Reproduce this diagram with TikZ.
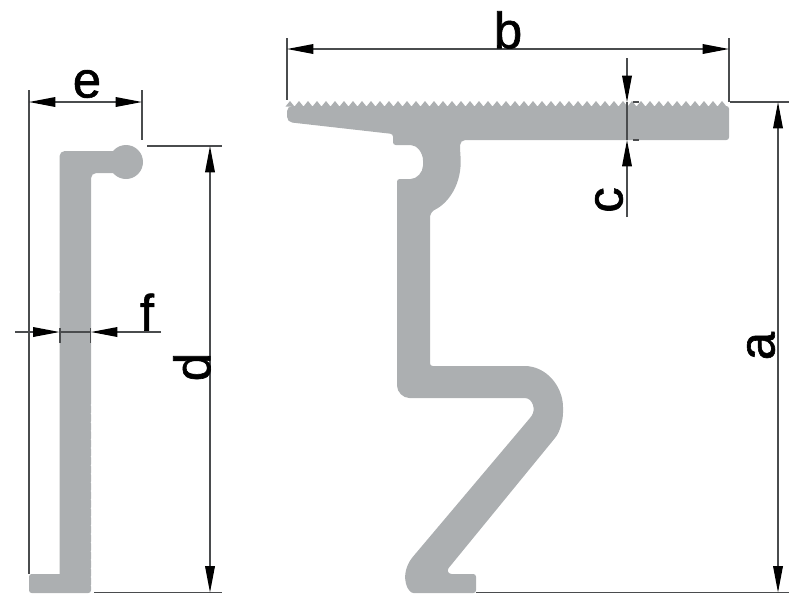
\documentclass[tikz,border=0pt]{standalone}
\usepackage{fontspec}
\setmainfont{Liberation Sans}
\newfontfamily\dimfont{Liberation Sans}[FakeBold=1.2]
\usetikzlibrary{arrows.meta}
\definecolor{alu}{HTML}{ACAFB1}
\definecolor{dimgrey}{HTML}{4A4C4E}
\tikzset{
	profile/.style={fill=alu, draw=none},
	dimline/.style={draw=dimgrey, line width=0.7pt},
	dimarrow/.style={dimline, -{Triangle[length=15pt,width=5.5pt,color=black]}},
	dimboth/.style={dimline, {Triangle[length=15pt,width=5.5pt,color=black]}-{Triangle[length=15pt,width=5.5pt,color=black]}},
	dimtext/.style={inner sep=0pt, font=\dimfont\fontsize{29}{29}\selectfont, text=black},
}

\begin{document}
\begin{tikzpicture}[x=0.02cm, y=-0.02cm]
			\useasboundingbox (0, 0) rectangle (800, 603);
			
			%%%%% LEFT PROFILE %%%%%
			\fill[profile, rounded corners=3pt] (59.5, 151) -- (126, 151) -- (126, 173) -- (91, 173) [rounded corners=1.5pt] -- (91, 593) -- (29, 593) -- (29, 574) [sharp corners] -- (59.5, 574) [rounded corners=3pt] -- cycle;
			\fill[profile] (126, 162) circle (17);
			\foreach \ny in {405, 413.6, ..., 590}
				\fill[white] (92, \ny) circle (1.3);
			\fill[white] (59, 292) circle (0.8);
			
			%%%%% RIGHT PROFILE %%%%%
			\fill[profile, rounded corners=3pt] (287, 106) [rounded corners=1.5pt] -- (729, 106) -- (729, 140) [rounded corners=3pt] -- (460, 140)
				-- (460, 150) .. controls (463, 185) and (447, 204) .. (430, 212)
				[rounded corners=1.5pt] -- (430, 366) -- (522, 366) .. controls (546, 366) and (563, 386) .. (563, 410)
				.. controls (563, 420) and (560, 431) .. (555, 438)
				-- (447, 570) -- (449, 574) -- (476, 574) -- (476, 593) -- (416, 593)
				.. controls (408, 593) and (400, 578) .. (411, 559)
				-- (530, 418) .. controls (536, 410) and (533, 398) .. (522, 398)
				-- (412, 398) .. controls (403, 398) and (397, 392) .. (397, 383)
				-- (397, 179) -- (408, 179) .. controls (417, 179) and (423, 172) .. (423, 163)
				.. controls (423, 153) and (417, 145) .. (408, 145)
				-- (393, 145) -- (393, 134) [rounded corners=3pt] -- (287, 122) -- cycle;
			\foreach \nx in {290, 299, ..., 726}
				\fill[profile] (\nx-4.5, 106.5) -- (\nx, 101) -- (\nx+4.5, 106.5) -- cycle;
			
			%%%%% DIMENSION a %%%%%
			\draw[dimline] (730, 102) -- (789, 102);
			\draw[dimline] (476, 592.5) -- (789, 592.5);
			\draw[dimboth] (778, 102) -- (778, 592.5);
			\node[dimtext, rotate=90] (la) at (761, 346) {a};
			
			%%%%% DIMENSION b %%%%%
			\draw[dimline] (287, 38) -- (287, 100);
			\draw[dimline] (729, 38) -- (729, 102);
			\draw[dimboth] (287, 49) -- (729, 49);
			\node[dimtext] (lb) at (508, 30) {b};
			
			%%%%% DIMENSION c %%%%%
			\draw[dimarrow] (627, 58) -- (627, 102);
			\draw[dimarrow] (627, 217) -- (627, 140);
			\draw[dimline] (627, 102) -- (627, 140);
			\draw[dimline] (633, 102) -- (639, 102);
			\draw[dimline] (633, 140) -- (639, 140);
			\node[dimtext, rotate=90] (lc) at (609, 200) {c};
			
			%%%%% DIMENSION d %%%%%
			\draw[dimline] (147, 146) -- (222, 146);
			\draw[dimline] (94, 592.5) -- (222, 592.5);
			\draw[dimboth] (210, 146) -- (210, 592.5);
			\node[dimtext, rotate=90] (ld) at (192, 367) {d};
			
			%%%%% DIMENSION e %%%%%
			\draw[dimline] (29, 90) -- (29, 574);
			\draw[dimline] (142, 90) -- (142, 140);
			\draw[dimboth] (29, 102) -- (142, 102);
			\node[dimtext] (le) at (87, 84) {e};
			
			%%%%% DIMENSION f %%%%%
			\draw[dimarrow] (15, 332) -- (59.5, 332);
			\draw[dimarrow] (161, 332) -- (91, 332);
			\draw[dimline] (59.5, 332) -- (91, 332);
			\draw[dimline] (60, 328) -- (60, 343);
			\draw[dimline] (90.5, 328) -- (90.5, 343);
			\node[dimtext] (lf) at (147, 312) {f};
		\end{tikzpicture}
\end{document}
